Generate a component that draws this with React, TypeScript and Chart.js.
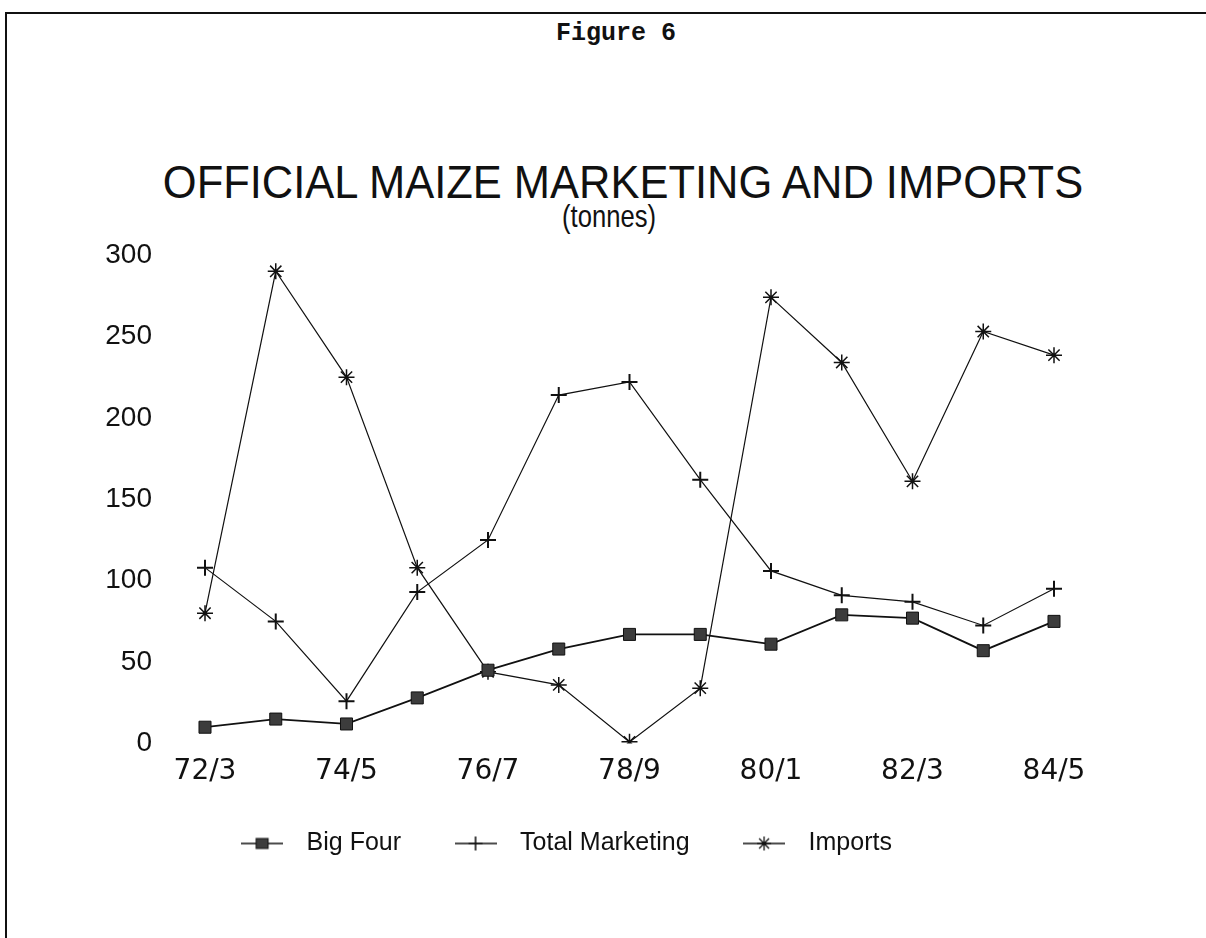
import React, { useEffect, useRef } from "react";
import { Chart, registerables } from "chart.js";

Chart.register(...registerables);

// ---- data ----
const categories = ["72/3", "73/4", "74/5", "75/6", "76/7", "77/8", "78/9", "79/80", "80/1", "81/2", "82/3", "83/4", "84/5"];
const seriesNames = ["Big Four", "Total Marketing", "Imports"];
const bigFour = [10, 15, 12, 28, 45, 58, 67, 67, 61, 79, 77, 57, 75];
const totalMarketing = [108, 75, 26, 93, 125, 214, 222, 162, 106, 91, 87, 72.5, 95];
const imports = [80, 290, 225, 108, 44, 36, 1, 34, 274, 234, 161, 253, 238.5];
const yMin = 0;
const yMax = 300;
const yStep = 50;
const figureLabel = "Figure 6";
const titleText = "OFFICIAL MAIZE MARKETING AND IMPORTS";
const subtitleText = "(tonnes)";

const SANS = "'Liberation Sans', Arial, sans-serif";
const INK = "#111";

function makeLegendIcon(kind: string): HTMLCanvasElement {
  const c = document.createElement("canvas");
  c.width = 42;
  c.height = 20;
  const g = c.getContext("2d")!;
  const cx = 21;
  g.strokeStyle = INK;
  g.fillStyle = "#3c3c3c";
  g.lineWidth = 1.4;
  g.beginPath();
  g.moveTo(0, 10);
  g.lineTo(42, 10);
  g.stroke();
  if (kind === "rect") {
    g.fillRect(cx - 6, 5, 12, 10);
    g.lineWidth = 1;
    g.strokeRect(cx - 6, 5, 12, 10);
  } else if (kind === "cross") {
    g.lineWidth = 1.6;
    g.beginPath();
    g.moveTo(cx - 7, 10);
    g.lineTo(cx + 7, 10);
    g.moveTo(cx, 3);
    g.lineTo(cx, 17);
    g.stroke();
  } else {
    g.lineWidth = 1.3;
    g.beginPath();
    for (let k = 0; k < 4; k++) {
      const a = (k * Math.PI) / 4;
      g.moveTo(cx - 7 * Math.cos(a), 10 - 7 * Math.sin(a));
      g.lineTo(cx + 7 * Math.cos(a), 10 + 7 * Math.sin(a));
    }
    g.stroke();
  }
  return c;
}

export default function App() {
  const canvasRef = useRef<HTMLCanvasElement>(null);

  useEffect(() => {
    if (!canvasRef.current) return;
    const icons = [makeLegendIcon("rect"), makeLegendIcon("cross"), makeLegendIcon("star")];
    const chart = new Chart(canvasRef.current, {
      type: "line",
      data: {
        labels: categories,
        datasets: [
          {
            label: seriesNames[0],
            data: bigFour,
            borderColor: INK,
            borderWidth: 1.8,
            pointStyle: "rect",
            pointRadius: 8.5,
            pointBackgroundColor: "#3c3c3c",
            pointBorderColor: INK,
            pointBorderWidth: 1,
            tension: 0,
            fill: false,
          },
          {
            label: seriesNames[1],
            data: totalMarketing,
            borderColor: INK,
            borderWidth: 1.2,
            pointStyle: "cross",
            pointRadius: 8,
            pointBorderColor: INK,
            pointBorderWidth: 2,
            tension: 0,
            fill: false,
          },
          {
            label: seriesNames[2],
            data: imports,
            borderColor: INK,
            borderWidth: 1.2,
            pointStyle: "star",
            pointRadius: 8,
            pointBorderColor: INK,
            pointBorderWidth: 1.5,
            tension: 0,
            fill: false,
          },
        ],
      },
      options: {
        animation: false,
        responsive: false,
        maintainAspectRatio: false,
        layout: { padding: { left: 0, right: 53, top: 70, bottom: 10 } },
        plugins: {
          title: { display: false },
          legend: {
            position: "bottom",
            labels: {
              usePointStyle: true,
              pointStyleWidth: 64,
              padding: 42.5,
              color: INK,
              font: { family: SANS, size: 25 },
              generateLabels: (c: any) =>
                Chart.defaults.plugins.legend.labels
                  .generateLabels(c)
                  .map((item: any, i: number) => ({ ...item, pointStyle: icons[i] })),
            },
          },
          tooltip: { enabled: false },
        },
        scales: {
          x: {
            grid: { display: false, drawTicks: false },
            border: { display: false },
            ticks: {
              autoSkip: false,
              maxRotation: 0,
              padding: 11,
              color: INK,
              font: { family: "'DejaVu Sans', sans-serif", size: 28 },
              callback: (_v: any, i: number) => (i % 2 === 0 ? categories[i] : ""),
            },
            afterFit: (s: any) => {
              s.height = 45;
            },
          },
          y: {
            min: yMin,
            max: yMax,
            grid: { display: false, drawTicks: false },
            border: { display: false },
            ticks: {
              stepSize: yStep,
              padding: 53,
              color: INK,
              font: { family: SANS, size: 28 },
            },
            afterFit: (s: any) => {
              s.width = 137;
            },
          },
        },
      },
    } as any);
    return () => chart.destroy();
  }, []);

  return (
    <div style={{ position: "absolute", left: 0, top: 0, width: 1206, height: 938, overflow: "hidden", background: "#fff" }}>
      <div
        style={{
          position: "absolute",
          left: 5,
          top: 12,
          width: 1201,
          height: 926,
          borderTop: "2px solid #111",
          borderLeft: "2px solid #111",
          boxSizing: "border-box",
        }}
      />
      <div
        style={{
          position: "absolute",
          left: 416,
          top: 21,
          width: 400,
          textAlign: "center",
          fontFamily: "'Liberation Mono', 'Courier New', monospace",
          fontWeight: "bold",
          fontSize: 25,
          lineHeight: "25px",
          color: INK,
        }}
      >
        {figureLabel}
      </div>
      <div
        style={{
          position: "absolute",
          left: 23,
          top: 158,
          width: 1200,
          textAlign: "center",
          fontFamily: SANS,
          fontSize: 47,
          lineHeight: "47px",
          color: INK,
          whiteSpace: "nowrap",
          transform: "scaleX(0.925)",
          transformOrigin: "center",
        }}
      >
        {titleText}
      </div>
      <div
        style={{
          position: "absolute",
          left: 9,
          top: 200,
          width: 1200,
          textAlign: "center",
          fontFamily: SANS,
          fontSize: 32,
          lineHeight: "32px",
          color: INK,
          whiteSpace: "nowrap",
          transform: "scaleX(0.8)",
          transformOrigin: "center",
        }}
      >
        {subtitleText}
      </div>
      <canvas
        ref={canvasRef}
        width={1039}
        height={691}
        style={{ position: "absolute", left: 68, top: 185, width: 1039, height: 691 }}
      />
    </div>
  );
}
